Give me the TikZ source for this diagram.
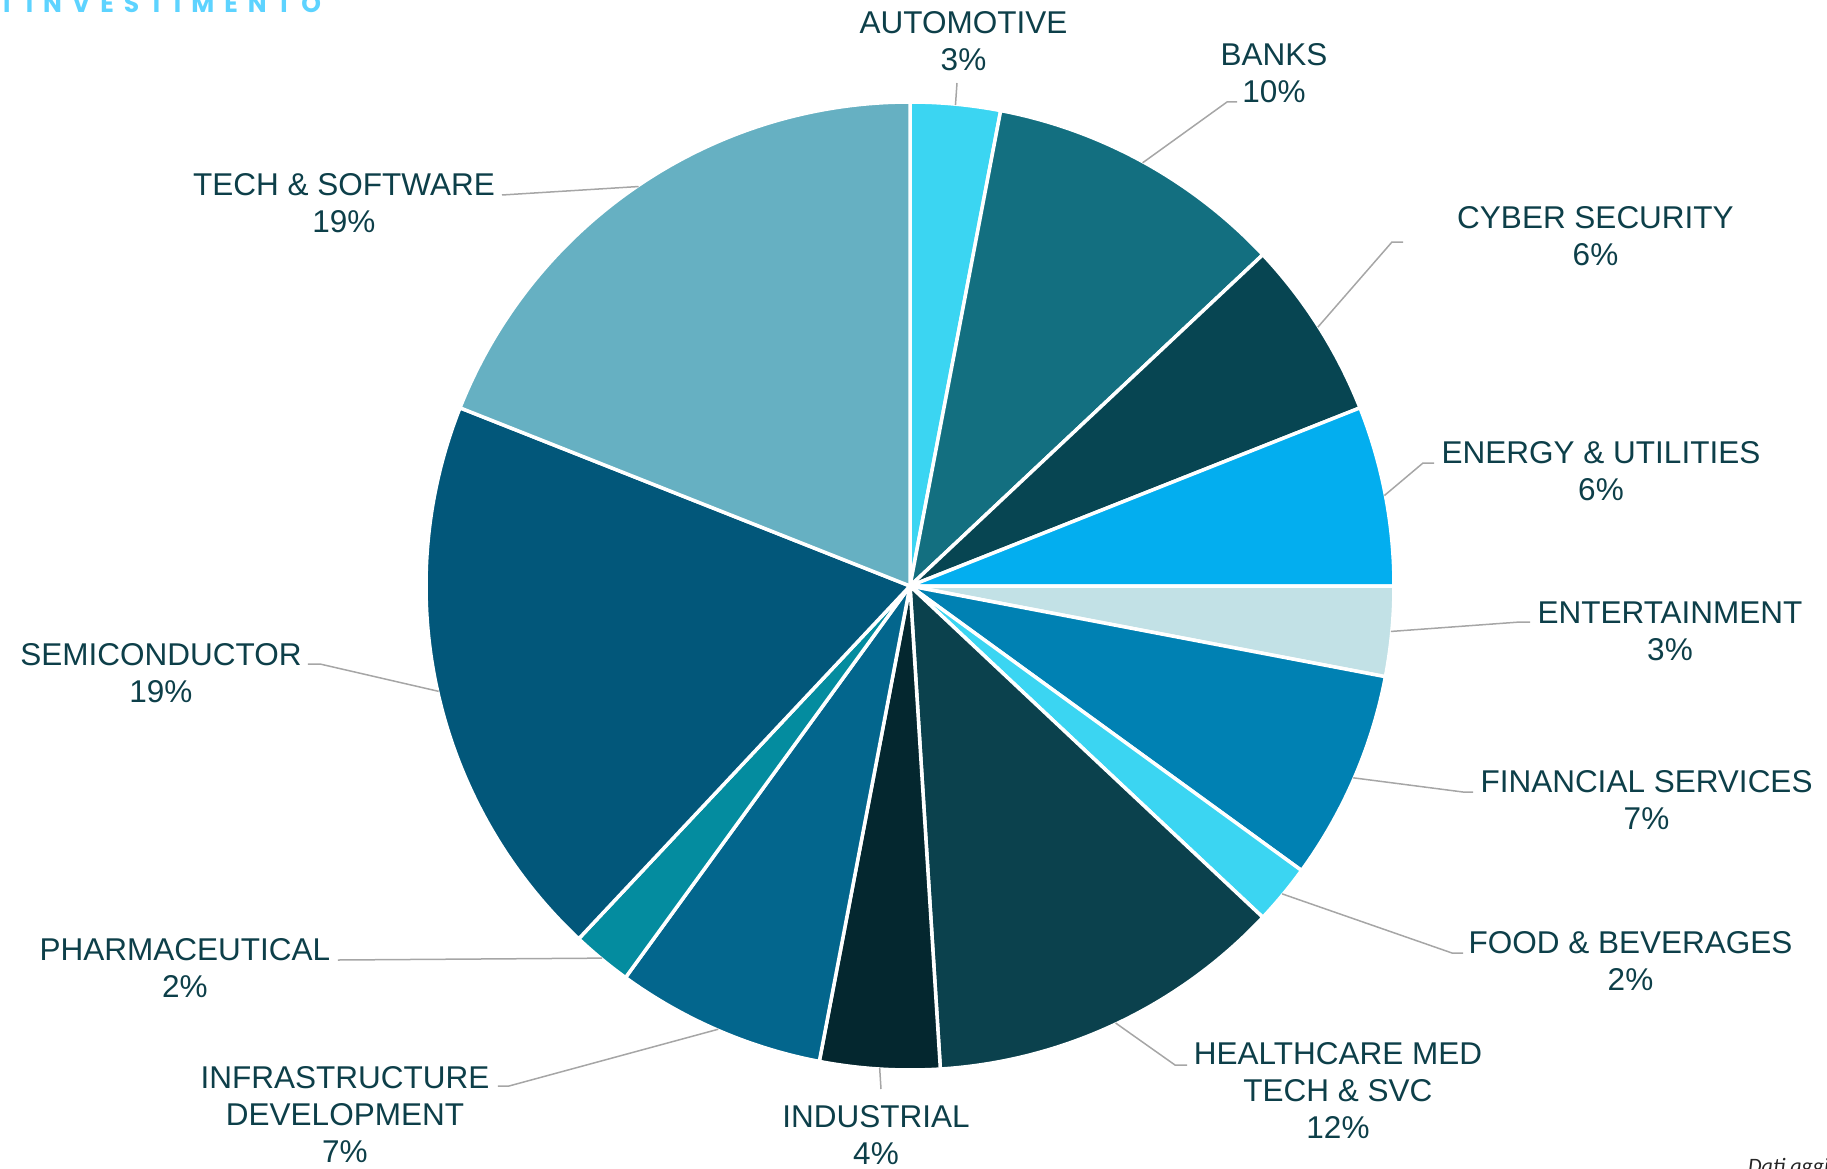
\documentclass[tikz,border=0pt]{standalone}
\usepackage{fontspec}
\setmainfont{Liberation Sans}
\newfontfamily\titlefont[LetterSpace=40]{Poppins}
\newfontfamily\notefont{Carlito}
\usetikzlibrary{positioning}
\definecolor{autoc}{HTML}{3BD5F2}
\definecolor{bankc}{HTML}{136F80}
\definecolor{cyberc}{HTML}{074552}
\definecolor{energyc}{HTML}{03AEEF}
\definecolor{entc}{HTML}{C2E1E6}
\definecolor{finc}{HTML}{0081B3}
\definecolor{healthc}{HTML}{0B414D}
\definecolor{indc}{HTML}{04272F}
\definecolor{infrac}{HTML}{03668D}
\definecolor{pharmac}{HTML}{048C9F}
\definecolor{semic}{HTML}{02577A}
\definecolor{techc}{HTML}{66B0C2}
\definecolor{labeltext}{HTML}{0D3F49}
\definecolor{leadergray}{HTML}{A6A6A6}
\definecolor{titleblue}{HTML}{5DD3FF}

\begin{document}
\begin{tikzpicture}[x=1pt,y=1pt,
						slice/.style={draw=white, line width=3.5pt, line join=round},
						labelnode/.style={align=center, inner sep=0pt, text=labeltext, font=\fontsize{31.5}{37}\selectfont},
						leader/.style={draw=leadergray, line width=1.5pt},
						]
						\useasboundingbox (-910,-582) rectangle (917,586);
						%Slices
						\foreach \a/\b/\col [count=\n] in {0/3/autoc, 3/13/bankc, 13/19/cyberc, 19/25/energyc, 25/28/entc, 28/35/finc, 35/37/autoc, 37/49/healthc, 49/53/indc, 53/60/infrac, 60/62/pharmac, 62/81/semic, 81/100/techc}
						{
						\filldraw[slice, fill=\col] (0,0) -- ({90-3.6*\a}:484) arc[start angle={90-3.6*\a}, end angle={90-3.6*\b}, radius=484] -- cycle;
						\coordinate (e\n) at ({90-1.8*(\a+\b)}:483);
						}
						
						%Nodes
						\node[labelnode]      (auto) 	at 	(53.5,544.5)       {AUTOMOTIVE\\3\%};
						\node[labelnode]      (bank) 	at 	(364,512.7)        {BANKS\\10\%};
						\node[labelnode]      (cyber) 	at 	(685.5,350)        {CYBER SECURITY\\6\%};
						\node[labelnode]      (energy) 	at 	(691,114.7)        {ENERGY \& UTILITIES\\6\%};
						\node[labelnode]      (ent) 	at 	(760,-45.3)        {ENTERTAINMENT\\3\%};
						\node[labelnode]      (fin) 	at 	(736.5,-213.8)     {FINANCIAL SERVICES\\7\%};
						\node[labelnode]      (food) 	at 	(720.5,-375)       {FOOD \& BEVERAGES\\2\%};
						\node[labelnode]      (health) 	at 	(428,-505)         {HEALTHCARE MED\\TECH \& SVC\\12\%};
						\node[labelnode]      (ind) 	at 	(-34,-549)         {INDUSTRIAL\\4\%};
						\node[labelnode]      (infra) 	at 	(-565,-529)        {INFRASTRUCTURE\\DEVELOPMENT\\7\%};
						\node[labelnode]      (pharma) 	at 	(-725,-382.5)      {PHARMACEUTICAL\\2\%};
						\node[labelnode]      (semi) 	at 	(-749,-87)         {SEMICONDUCTOR\\19\%};
						\node[labelnode]      (tech) 	at 	(-566,383.2)       {TECH \& SOFTWARE\\19\%};
						\node[anchor=base west, inner sep=0pt, text=titleblue, font=\titlefont\bfseries\fontsize{25}{25}\selectfont] (title) at (-907,573) {I INVESTIMENTO};
						\node[anchor=base west, inner sep=0pt, text=black!85, font=\notefont\itshape\fontsize{22}{22}\selectfont] (note) at (838,-587) {Dati aggi};
						
						%Leaders
						\coordinate (auto1) at (47,503);
						\coordinate (bank1) at (317,484);	\coordinate (bank2) at (327,484);
						\coordinate (cyber1) at (482,344);	\coordinate (cyber2) at (493,344);
						\coordinate (energy1) at (513,123);	\coordinate (energy2) at (524,123);
						\coordinate (ent1) at (610,-36);	\coordinate (ent2) at (620,-36);
						\coordinate (fin1) at (553,-206);	\coordinate (fin2) at (563,-206);
						\coordinate (food1) at (542,-367);	\coordinate (food2) at (553,-367);
						\coordinate (health1) at (265,-479);	\coordinate (health2) at (277,-479);
						\coordinate (ind1) at (-29,-503);
						\coordinate (infra1) at (-401,-500);	\coordinate (infra2) at (-412,-500);
						\coordinate (pharma1) at (-572,-374);
						\coordinate (semi1) at (-590,-78);	\coordinate (semi2) at (-602,-78);
						\coordinate (tech1) at (-408,391);
						
						\draw[leader] (e1) -- (auto1);
						\draw[leader] (e2) -- (bank1) -- (bank2);
						\draw[leader] (e3) -- (cyber1) -- (cyber2);
						\draw[leader] (e4) -- (energy1) -- (energy2);
						\draw[leader] (e5) -- (ent1) -- (ent2);
						\draw[leader] (e6) -- (fin1) -- (fin2);
						\draw[leader] (e7) -- (food1) -- (food2);
						\draw[leader] (e8) -- (health1) -- (health2);
						\draw[leader] (e9) -- (ind1);
						\draw[leader] (e10) -- (infra1) -- (infra2);
						\draw[leader] (e11) -- (pharma1);
						\draw[leader] (e12) -- (semi1) -- (semi2);
						\draw[leader] (e13) -- (tech1);
					\end{tikzpicture}
\end{document}
